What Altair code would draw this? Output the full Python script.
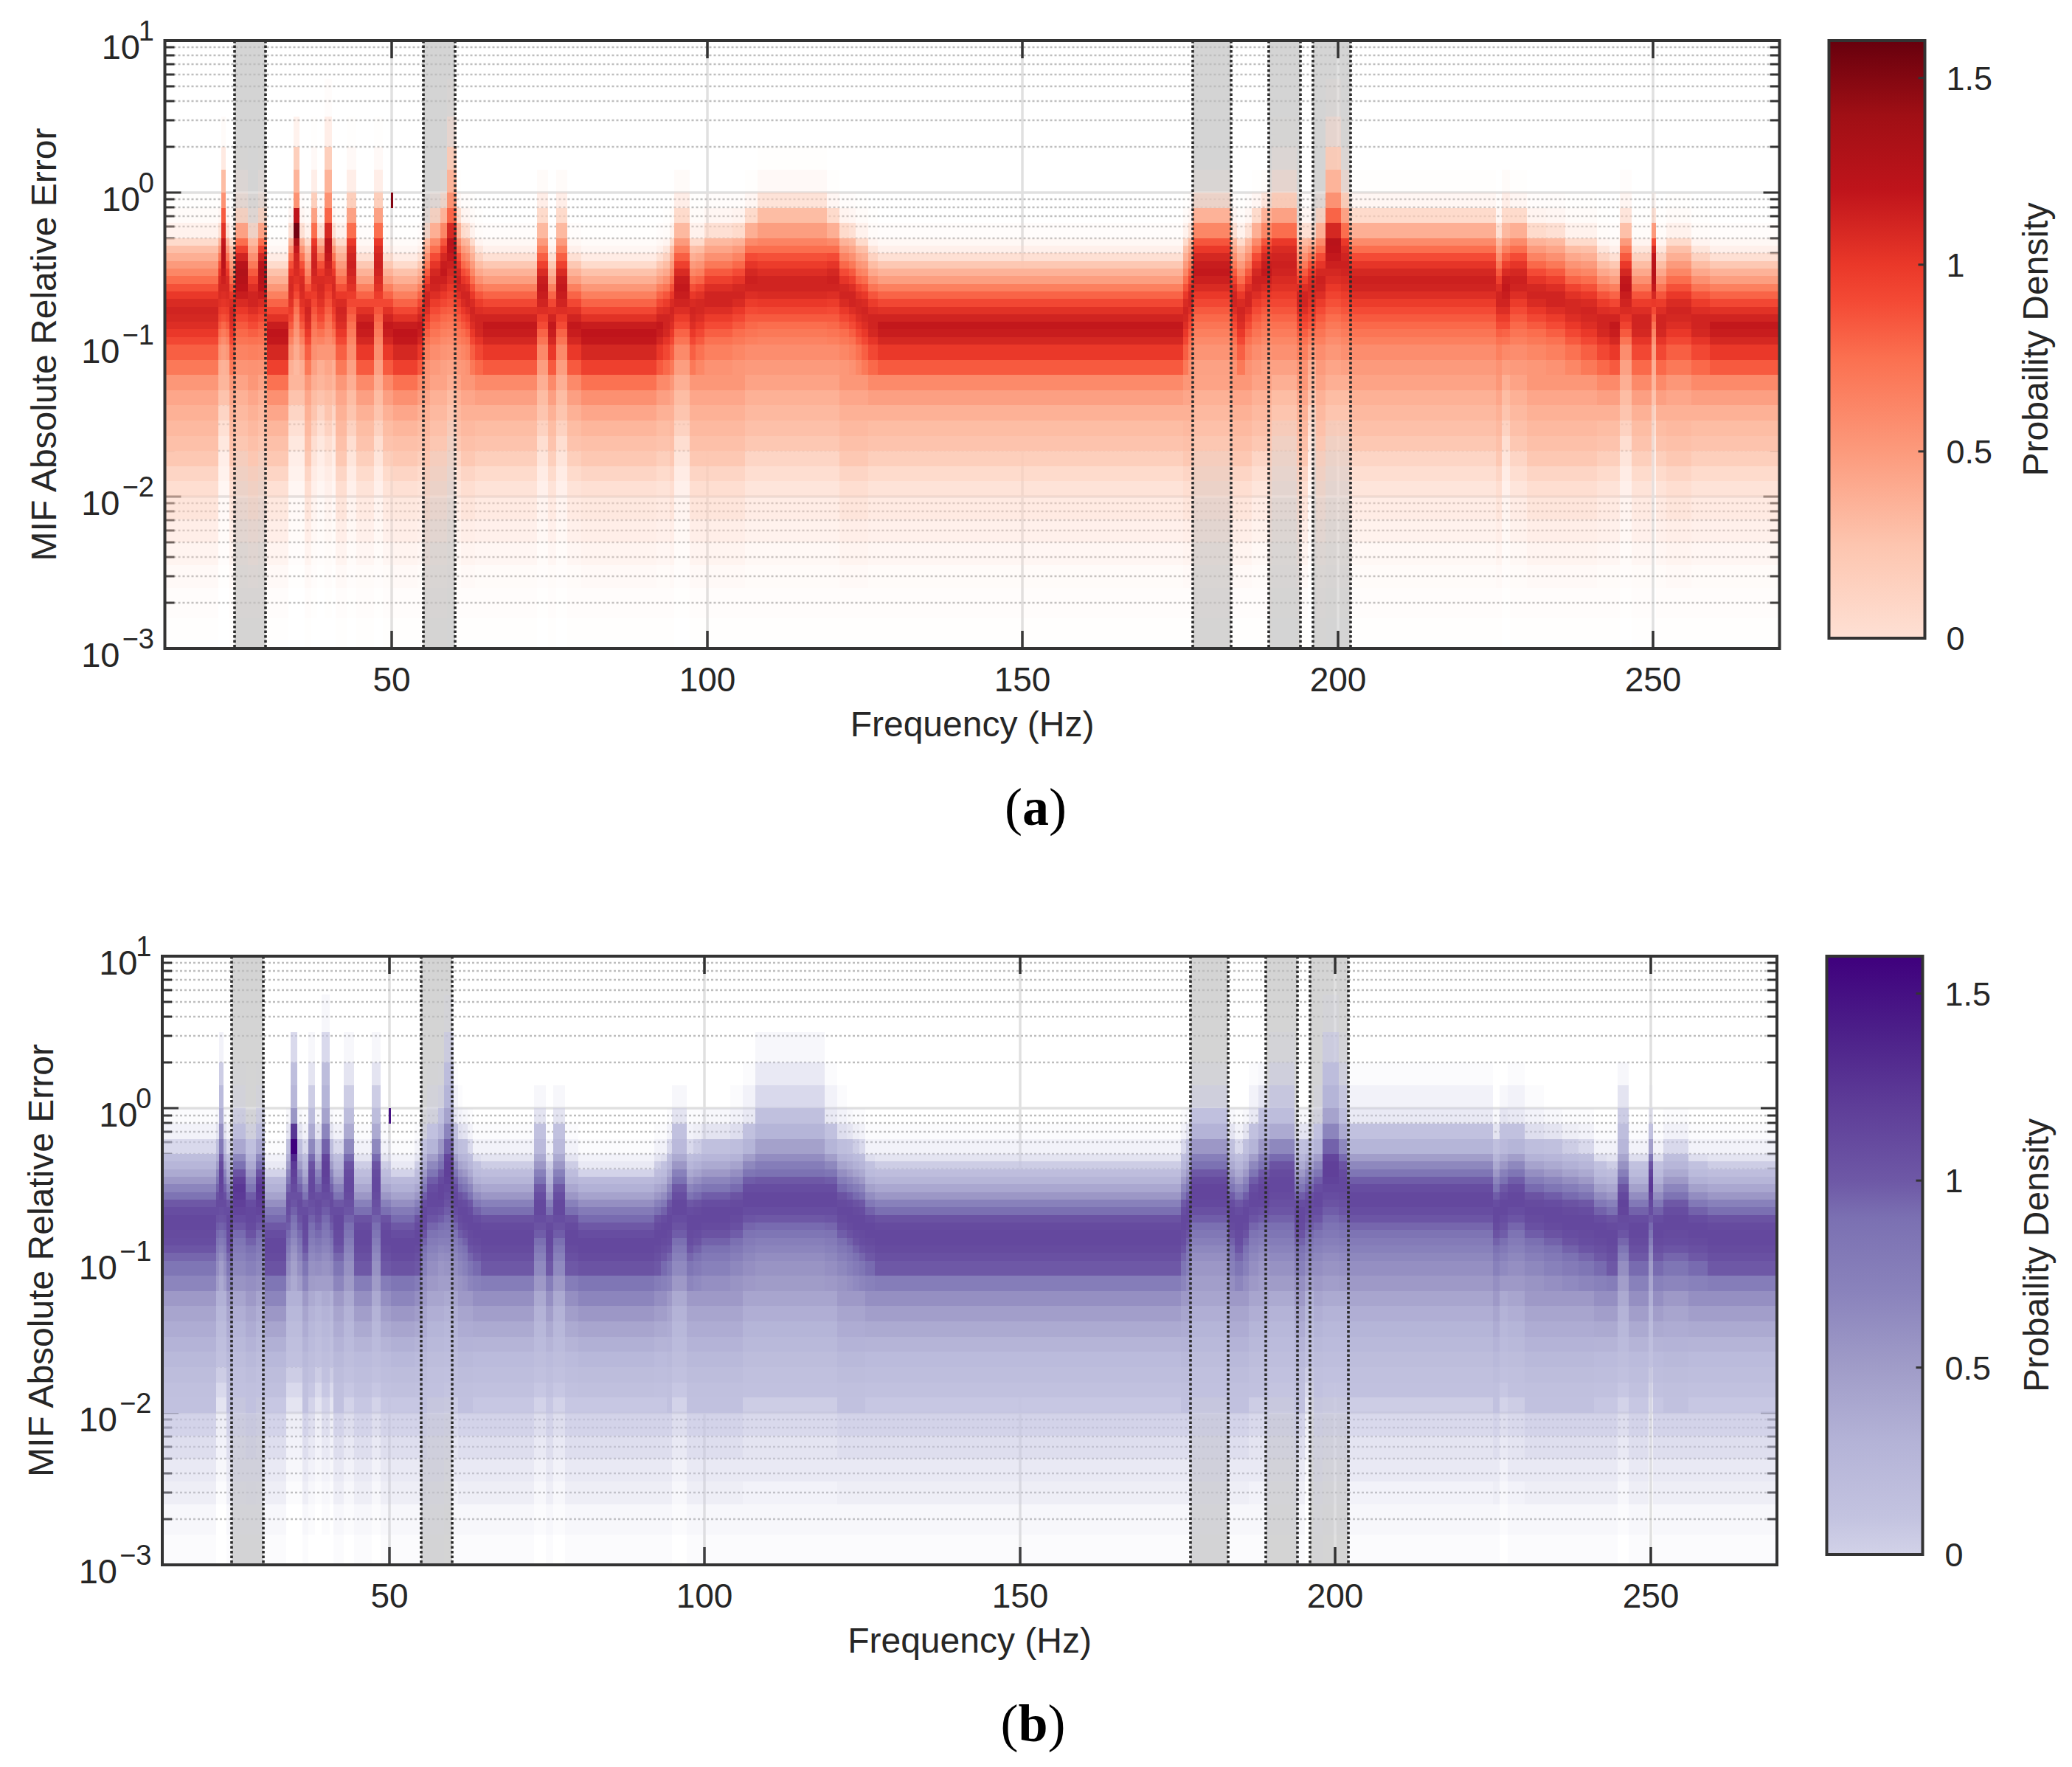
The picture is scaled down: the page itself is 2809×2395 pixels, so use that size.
import altair as alt
import pandas as pd

W, H_A, H_B = 2189, 824, 825
SHIFT = 3.5
CB_W = 133
F0, F1 = 14, 270
TEXT = "#262626"
FRAME = "#333333"
FONT = "Liberation Sans"

# log10 edges of the error bins, bottom to top
LOG_EDGES = [-3.0,-2.8,-2.6,-2.45,-2.3,-2.15,-2.0,-1.9,-1.8,-1.7,-1.6,-1.5,-1.4,-1.3,-1.2,-1.1,-1.0,-0.95,-0.9,-0.85,-0.8,-0.75,
             -0.7,-0.65,-0.6,-0.55,-0.5,-0.45,-0.4,-0.35,-0.3,-0.2,-0.1,0.0,0.15,0.3,0.5,0.75]

# density x 100 in the 14 lowest bins (a) and panel (b)
RED_TAIL = {
 "low":[1,2,4,7,10,13,16,20,24,28,34,43,56,74],
 "mid":[1,2,3,6,9,12,15,18,22,26,30,37,47,60],
 "wide":[1,2,4,7,10,14,17,20,24,28,32,37,43,52],
 "high":[1,2,3,5,8,11,14,17,20,24,28,32,37,45],
 "notch":[0,0,1,2,3,4,6,8,10,13,16,20,26,34],
 "spike":[0,1,2,3,5,7,9,11,14,17,21,25,30,38],
}
PURPLE_TAIL = {
 "low":[1,2,4,5,7,9,11,14,18,24,33,42,54,68],
 "mid":[1,2,4,5,7,9,11,13,16,20,29,38,48,60],
 "wide":[1,2,4,5,7,9,12,14,18,23,30,36,42,52],
 "high":[1,2,3,5,6,8,10,12,14,18,23,28,34,42],
 "notch":[0,0,1,2,3,4,6,8,10,12,15,19,24,32],
 "spike":[0,1,2,3,5,7,9,11,13,16,20,24,30,38],
}
TAIL_OF = {"r95":"low","r90":"mid","r85":"mid","r82":"wide","r78":"wide","r75":"wide","r70":"wide","r65":"high","r65h":"high","r58":"high",
           "n":"notch","s35":"notch","smid":"spike","shigh":"spike","s23":"notch","d":"high","s226":"spike","s245":"spike","s250":"notch","p50":"mid"}

# density x 100 in the 23 upper bins
RED = {
 "r95":[96,110,118,120,116,104,92,80,66,52,38,27,18,11,6,3,1,0,0,0,0,0,0],
 "r90":[84,100,110,116,118,112,104,92,80,66,48,36,24,16,9,5,2,0,0,0,0,0,0],
 "r85":[78,92,102,110,112,112,106,98,86,72,56,42,30,21,14,7,3,1,0,0,0,0,0],
 "r82":[70,82,92,100,106,110,112,108,100,88,76,62,50,38,28,18,8,3,1,0,0,0,0],
 "r78":[62,74,84,92,100,106,110,110,104,94,80,66,54,42,30,18,8,3,1,0,0,0,0],
 "r75":[55,66,74,82,90,98,106,112,112,106,96,84,70,56,44,32,16,6,2,0,0,0,0],
 "r70":[52,62,70,76,84,92,100,108,112,110,102,90,78,64,50,36,18,7,2,0,0,0,0],
 "r65":[50,58,66,72,78,84,90,98,106,112,114,110,102,90,76,60,38,18,6,1,0,0,0],
 "r65h":[50,58,64,70,76,84,92,100,108,112,112,106,98,88,76,64,48,30,15,4,1,0,0],
 "r58":[46,54,60,66,72,78,84,92,100,108,114,118,116,110,100,86,62,36,14,3,0,0,0],
 "n":[38,52,64,74,84,92,98,104,108,110,108,100,88,72,54,36,16,6,2,0,0,0,0],
 "s35":[32,40,46,52,58,64,72,80,90,98,104,108,110,112,118,135,155,120,55,35,22,8,0],
 "smid":[46,56,62,68,74,80,86,92,98,104,108,112,114,112,108,100,76,46,22,10,4,1,0],
 "shigh":[44,52,58,64,70,76,82,88,94,100,106,110,114,118,122,124,110,80,55,35,22,10,2],
 "s23":[36,48,58,68,78,88,96,102,106,110,114,118,122,124,124,118,104,84,55,30,12,3,0],
 "d":[54,64,72,78,84,92,100,108,116,122,126,128,124,112,96,76,46,18,8,4,1,0,0],
 "s226":[48,60,72,80,90,98,106,112,116,118,116,108,96,82,66,50,32,18,10,3,0,0,0],
 "s245":[46,58,72,84,94,102,108,112,116,120,118,110,100,84,68,50,28,14,6,2,0,0,0],
 "s250":[38,46,54,62,72,82,90,100,110,118,124,126,124,120,110,90,50,15,5,0,0,0,0],
 "p50":[84,100,110,116,118,112,104,92,80,66,48,36,24,16,9,5,2,0,150,0,0,0,0],
}

# density x 100 in the 23 upper bins
PURPLE = {
 "r95":[84,104,110,112,112,108,100,92,78,60,44,32,22,9,5,3,1,0,0,0,0,0,0],
 "r90":[76,100,106,110,112,112,110,104,90,72,54,40,27,17,10,6,3,1,0,0,0,0,0],
 "r85":[72,92,100,106,110,112,112,108,96,80,62,46,32,20,12,7,3,1,0,0,0,0,0],
 "r82":[68,84,94,102,108,110,112,112,108,100,86,68,52,38,26,16,8,3,1,0,0,0,0],
 "r78":[64,78,88,96,104,108,112,112,110,104,92,76,60,44,32,20,10,4,1,0,0,0,0],
 "r75":[60,72,80,88,96,104,110,112,112,108,98,84,68,52,38,26,14,6,2,0,0,0,0],
 "r70":[56,66,74,82,90,98,106,110,112,110,104,92,76,60,44,30,16,7,3,1,0,0,0],
 "r65":[52,60,66,72,78,86,94,102,108,112,112,108,98,84,66,48,28,12,5,3,1,0,0],
 "r65h":[50,56,62,68,74,84,92,100,108,112,112,108,100,88,76,62,46,28,14,8,5,2,0],
 "r58":[48,54,60,66,74,82,90,98,106,112,114,114,110,100,88,74,54,30,14,6,2,0,0],
 "n":[48,60,68,76,84,92,98,104,108,110,106,96,84,68,50,34,16,6,2,0,0,0,0],
 "s35":[38,46,52,58,64,72,80,88,96,102,106,110,114,118,122,135,160,125,55,25,16,8,0],
 "smid":[50,58,64,70,76,84,90,96,102,106,110,112,112,110,104,92,66,38,18,10,6,2,0],
 "shigh":[48,56,62,68,74,80,86,92,98,104,108,112,116,118,118,114,96,68,44,28,18,8,2],
 "s23":[38,48,58,68,78,88,96,102,106,110,112,114,116,116,110,100,80,60,36,20,10,3,0],
 "d":[56,66,72,78,84,92,100,108,114,118,122,124,118,104,88,66,40,18,8,3,1,0,0],
 "s226":[52,64,72,80,90,98,104,108,112,112,108,100,88,72,54,38,22,12,6,2,0,0,0],
 "s245":[48,60,72,84,94,102,108,110,114,116,112,104,92,74,58,42,26,16,10,6,2,0,0],
 "s250":[40,48,56,64,74,84,92,100,108,112,118,124,122,116,104,84,48,14,5,1,0,0,0],
 "p50":[76,100,106,110,112,112,110,104,90,72,54,40,27,17,10,6,3,1,150,0,0,0,0],
}

# frequency (Hz) at which each column starts, and the error profile seen there
COLUMN_START = [14,22.5,23,23.7,24.2,25.2,27.2,28.8,30.2,33.6,34.4,35.4,36.2,37.2,38.2,39.3,40.5,41.1,42.8,44.4,
                47.2,48.6,49.9,50.2,54,55,56,57.7,58.7,60.2,60.9,61.6,62.4,63.2,64.5,73,74.8,76,77.8,80,92,93,94,94.8,97.2,98.2,99.5,
                104,106,108,119,121,122.5,123.5,124.5,125.5,127,175.5,176.3,177,183,184,185.3,186.3,187.8,189.5,193.5,195.2,196.5,198,200.5,201.8,
                225,226,227.3,230,233,236,238.5,241,243,244.7,246.5,249.7,250.4,252,256,259]
COLUMN_KEY = ["r82","n","s23","n","r82","d","r75","d","r95","n","s35","n","r82","smid","n","shigh","n","r82","smid","r90",
              "smid","r90","p50","r95","r90","r75","r65","r58","shigh","r65","r70","r75","r82","r85","r90","s226","r90","s226","r90","r95","r90","r85","r82","s226","r82","r78","r75",
              "r70","r65","r65h","r65","r70","r75","r78","r82","r85","r90","r82","r75","r58","r75","r82","r75","r65","r58","smid","r75","n","r65","shigh","smid","r65",
              "r75","s226","r65","r70","r75","r78","r82","r85","r90","s245","r85","s250","r85","r82","r85","r90"]

BANDS_LO = [25,55,177,189,196]
BANDS_HI = [30,60,183,194,202]
X_TICKS = [50,100,150,200,250]
Y_MAJOR = [10,1,0.1,0.01,0.001]
Y_EXP = ["1","0","\u22121","\u22122","\u22123"]
Y_MINOR = [m*d for d in (0.001,0.01,0.1,1) for m in (2,3,4,5,6,7,8,9)]
CB_TICKS = [0,0.5,1,1.5]
CB_LABELS = ["0","0.5","1","1.5"]

RED_D = [0,0.25,0.5,0.75,0.9,1.0,1.2,1.4,1.6]
RED_C = ["#fee0d4","#fdc5af","#fc9a7c","#fb7050","#f44a35","#ea3829","#bf141b","#a00f15","#67000d"]
PUR_D = [0,0.1,0.3,0.5,0.7,0.9,1.0,1.2,1.4,1.6]
PUR_C = ["#d2d2e8","#c3c3e0","#b4b3d7","#a09cc8","#8a83bc","#7b70b2","#6e58a6","#5e3d98","#4c1f89","#3f007d"]


def frame(d):
    return pd.DataFrame(d)


def heat_cells(upper, tail):
    assert len(COLUMN_START) == len(COLUMN_KEY), (len(COLUMN_START), len(COLUMN_KEY))
    rows = []
    for i, (start, key) in enumerate(zip(COLUMN_START, COLUMN_KEY)):
        end = COLUMN_START[i + 1] if i + 1 < len(COLUMN_START) else F1
        prof = tail[TAIL_OF[key]] + upper[key]
        assert len(prof) == len(LOG_EDGES) - 1, (key, len(prof))
        for j, v in enumerate(prof):
            if v > 0:
                rows.append({"f0": start, "f1": end, "e0": 10 ** LOG_EDGES[j], "e1": 10 ** LOG_EDGES[j + 1], "d": v / 100})
    return frame(rows)


def panel(upper, tail, dom, rng, op_top, height, caption, ox):
    xs = alt.Scale(domain=[F0, F1], range=[ox, ox + W], nice=False, zero=False, round=True)
    ys = alt.Scale(type="log", domain=[0.001, 10], nice=False, round=True)
    X = lambda f: alt.X(f, scale=xs, axis=None)
    Y = lambda f: alt.Y(f, scale=ys, axis=None)
    one = frame({"a": [0]})
    bands = frame({"lo": BANDS_LO, "hi": BANDS_HI})
    xt = frame({"v": X_TICKS, "t": [str(v) for v in X_TICKS]})
    ymaj = frame({"v": Y_MAJOR, "e": Y_EXP, "t": ["10"] * len(Y_MAJOR)})
    ymin = frame({"v": Y_MINOR})
    edges = frame({"v": BANDS_LO + BANDS_HI})
    L, R = ox, ox + W

    layers = [
        alt.Chart(bands).mark_rect(color="#d4d4d4").encode(x=X("lo:Q"), x2="hi:Q", y=alt.value(0), y2=alt.value(height)),
        alt.Chart(xt).mark_rule(color="#e0e0e0", strokeWidth=3.5).encode(x=X("v:Q"), y=alt.value(0), y2=alt.value(height)),
        alt.Chart(ymaj).mark_rule(color="#e0e0e0", strokeWidth=3.5).encode(y=Y("v:Q"), x=alt.value(L), x2=alt.value(R)),
        alt.Chart(ymin).mark_rule(color="#bebebe", strokeWidth=2.5, strokeDash=[3, 3]).encode(y=Y("v:Q"), x=alt.value(L), x2=alt.value(R)),
    ]
    for a, b in ((L, L + 13), (R - 13, R)):
        layers.append(alt.Chart(ymin).mark_rule(color=FRAME, strokeWidth=3).encode(y=Y("v:Q"), x=alt.value(a), x2=alt.value(b)))
    for a, b in ((L, L + 22), (R - 22, R)):
        layers.append(alt.Chart(ymaj).mark_rule(color=FRAME, strokeWidth=3).encode(y=Y("v:Q"), x=alt.value(a), x2=alt.value(b)))
    for a, b in ((0, 24), (height - 24, height)):
        layers.append(alt.Chart(xt).mark_rule(color=FRAME, strokeWidth=3.5).encode(x=X("v:Q"), y=alt.value(a), y2=alt.value(b)))
    for t, bx in ((["1", "0"], L - 33.5), (["\u22121", "\u22122", "\u22123"], L - 61)):
        sub = frame({"v": [v for v, e in zip(Y_MAJOR, Y_EXP) if e in t], "t": "10"})
        layers.append(alt.Chart(sub).mark_text(font=FONT, fontSize=47, color=TEXT, align="right", baseline="alphabetic", dy=25).encode(
            y=Y("v:Q"), x=alt.value(bx), text="t:N"))
    layers += [
        alt.Chart(heat_cells(upper, tail)).mark_rect(strokeWidth=0).encode(
            x=X("f0:Q"), x2="f1:Q", y=Y("e0:Q"), y2="e1:Q",
            color=alt.Color("d:Q", scale=alt.Scale(domain=dom, range=rng, clamp=True), legend=None),
            opacity=alt.Opacity("d:Q", scale=alt.Scale(domain=[0, op_top], range=[0, 1], clamp=True), legend=None)),
        alt.Chart(edges).mark_rule(color="#2b2b2b", strokeWidth=3.6, strokeDash=[3.5, 3]).encode(x=X("v:Q"), y=alt.value(0), y2=alt.value(height)),
        alt.Chart(one).mark_rect(filled=False, stroke=FRAME, strokeWidth=4).encode(
            x=alt.value(L), x2=alt.value(R), y=alt.value(0), y2=alt.value(height)),
        alt.Chart(xt).mark_text(font=FONT, fontSize=46, color=TEXT, align="center", baseline="alphabetic").encode(
            x=X("v:Q"), y=alt.value(height + 58), text="t:N"),
        alt.Chart(ymaj).mark_text(font=FONT, fontSize=38, color=TEXT, align="right", baseline="alphabetic", dy=0).encode(
            y=Y("v:Q"), x=alt.value(L - 14.5), text="e:N"),
        alt.Chart(frame({"t": ["Frequency (Hz)"]})).mark_text(font=FONT, fontSize=48, color=TEXT, align="center", baseline="alphabetic").encode(
            x=alt.value(L + W / 2), y=alt.value(height + 119), text="t:N"),
        alt.Chart(frame({"t": ["MIF Absolute Relative Error"]})).mark_text(font=FONT, fontSize=48, color=TEXT, angle=270, align="center", baseline="middle").encode(
            x=alt.value(L - 162), y=alt.value(height / 2), text="t:N"),
    ]
    c = L + W / 2 + 86
    half = 18 if caption == "a" else 20
    cap = [("(", "normal", "right", c - half), (caption, "bold", "center", c), (")", "normal", "left", c + half)]
    for t, w, al, px in cap:
        layers.append(alt.Chart(frame({"t": [t]})).mark_text(
            font="Liberation Serif", fontSize=72, fontWeight=w, color="#000000", align=al, baseline="alphabetic").encode(
            x=alt.value(px), y=alt.value(height + 239), text="t:N"))
    return alt.layer(*layers).properties(width=W + SHIFT, height=height)


def colorbar(dom, rng, height, title_x, label_x, ox, w):
    ys = alt.Scale(domain=[0, 1.6], nice=False, zero=True)
    Y = alt.Y("v:Q", scale=ys, axis=None)
    one = frame({"a": [0]})
    tk = frame({"v": CB_TICKS, "t": CB_LABELS})
    grad = alt.LinearGradient(gradient="linear", x1=0, x2=0, y1=1, y2=0,
                              stops=[alt.GradientStop(color=c, offset=d / 1.6) for d, c in zip(dom, rng)])
    return alt.layer(
        alt.Chart(one).mark_rect(fill=grad).encode(x=alt.value(ox), x2=alt.value(ox + w), y=alt.value(0), y2=alt.value(height)),
        alt.Chart(tk).mark_rule(color=FRAME, strokeWidth=3).encode(y=Y, x=alt.value(ox + w - 9), x2=alt.value(ox + w)),
        alt.Chart(one).mark_rect(filled=False, stroke=FRAME, strokeWidth=4).encode(
            x=alt.value(ox), x2=alt.value(ox + w), y=alt.value(0), y2=alt.value(height)),
        alt.Chart(tk).mark_text(font=FONT, fontSize=45, color=TEXT, align="left", baseline="middle", dy=2).encode(
            y=Y, x=alt.value(label_x), text="t:N"),
        alt.Chart(frame({"t": ["Probaility Density"]})).mark_text(font=FONT, fontSize=48, color=TEXT, angle=270, align="center", baseline="middle").encode(
            x=alt.value(title_x), y=alt.value(height / 2), text="t:N"),
    ).properties(width=CB_W, height=height)


chart = alt.concat(
    panel(RED, RED_TAIL, RED_D, RED_C, 0.25, H_A, "a", SHIFT),
    colorbar(RED_D, RED_C, 810, 284, 161, 2, 130),
    panel(PURPLE, PURPLE_TAIL, PUR_D, PUR_C, 0.12, H_B, "b", 0),
    colorbar(PUR_D, PUR_C, 811, 285, 159, -1, 130),
    columns=2, bounds="flush", spacing=alt.RowColnumber(row=417, column=64.5),
).resolve_scale(color="independent", opacity="independent").properties(
    padding={"left": 26, "top": 17, "right": 5, "bottom": 5}
).configure_view(stroke=None)

chart.save("out.html", embed_options={"renderer": "svg", "actions": False})
